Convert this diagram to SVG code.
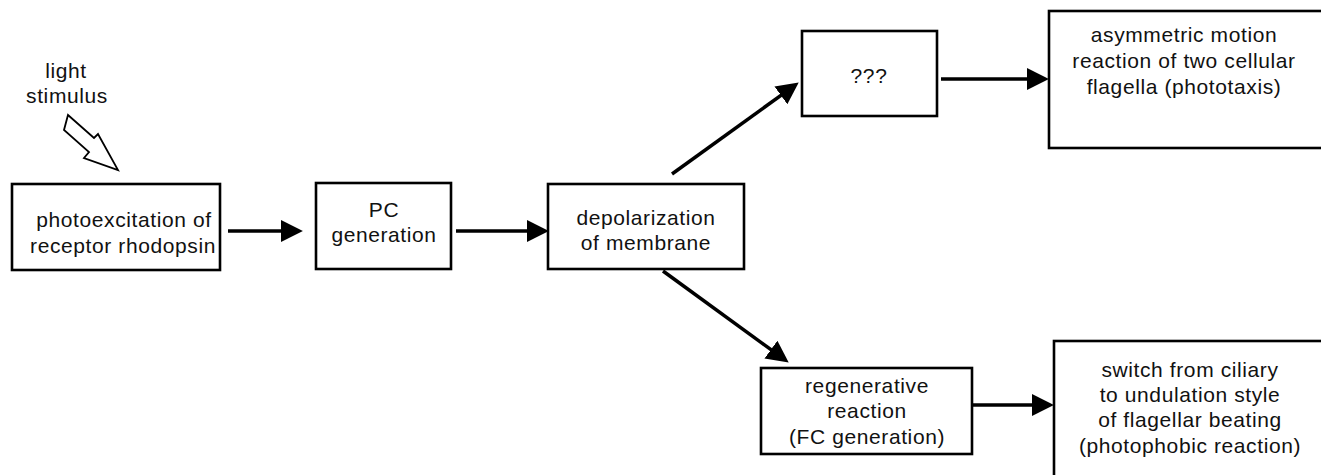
<svg xmlns="http://www.w3.org/2000/svg" width="1321" height="475" viewBox="0 0 1321 475">
<style>
.box{fill:#fff;stroke:#000;stroke-width:2.6}
.t{font-family:"Liberation Sans",Arial,sans-serif;font-size:21px;letter-spacing:0.6px;fill:#111;text-anchor:middle}
.c{stroke:#000;stroke-width:3.5;fill:none}
</style>
<defs>
<marker id="ah" markerUnits="userSpaceOnUse" markerWidth="22" markerHeight="22" viewBox="0 0 20 20" refX="11" refY="10" orient="auto">
<path d="M0,0 L20,10 L0,20 z" fill="#000"/>
</marker>
</defs>
<rect width="1321" height="475" fill="#fff"/>
<g id="light">
<text class="t" x="66" y="78">light</text>
<text class="t" x="67" y="103">stimulus</text>
<polygon points="68,115 94,138 98,134 118,170 84,158 89,152 64,130" fill="#fff" stroke="#000" stroke-width="1.8" stroke-linejoin="miter"/>
</g>
<g id="n1">
<rect class="box" x="12" y="184" width="208" height="86"/>
<text class="t" x="124" y="227">photoexcitation of</text>
<text class="t" x="123" y="253">receptor rhodopsin</text>
</g>
<g id="n2">
<rect class="box" x="316" y="183" width="135" height="86"/>
<text class="t" x="384" y="217">PC</text>
<text class="t" x="384" y="242">generation</text>
</g>
<g id="n3">
<rect class="box" x="548" y="184" width="196" height="85"/>
<text class="t" x="646" y="225">depolarization</text>
<text class="t" x="646" y="250">of membrane</text>
</g>
<g id="n4">
<rect class="box" x="802" y="31" width="135" height="85"/>
<text class="t" x="869" y="83">???</text>
</g>
<g id="n5">
<rect class="box" x="1049" y="11" width="320" height="137"/>
<text class="t" x="1184" y="42">asymmetric motion</text>
<text class="t" x="1184" y="68">reaction of two cellular</text>
<text class="t" x="1184" y="94">flagella (phototaxis)</text>
</g>
<g id="n6">
<rect class="box" x="761" y="368" width="211" height="86"/>
<text class="t" x="867" y="393">regenerative</text>
<text class="t" x="867" y="418">reaction</text>
<text class="t" x="867" y="444">(FC generation)</text>
</g>
<g id="n7">
<rect class="box" x="1054" y="341" width="320" height="150"/>
<text class="t" x="1190" y="377">switch from ciliary</text>
<text class="t" x="1190" y="402">to undulation style</text>
<text class="t" x="1190" y="427">of flagellar beating</text>
<text class="t" x="1190" y="453">(photophobic reaction)</text>
</g>
<g id="connectors">
<line class="c" x1="228" y1="231" x2="293" y2="231" marker-end="url(#ah)"/>
<line class="c" x1="456" y1="231" x2="539" y2="231" marker-end="url(#ah)"/>
<line class="c" x1="672" y1="174" x2="790.7" y2="88.3" marker-end="url(#ah)"/>
<line class="c" x1="941" y1="79" x2="1039" y2="79" marker-end="url(#ah)"/>
<line class="c" x1="663" y1="271" x2="780.7" y2="356.7" marker-end="url(#ah)"/>
<line class="c" x1="972" y1="405" x2="1044" y2="405" marker-end="url(#ah)"/>
</g>
</svg>
